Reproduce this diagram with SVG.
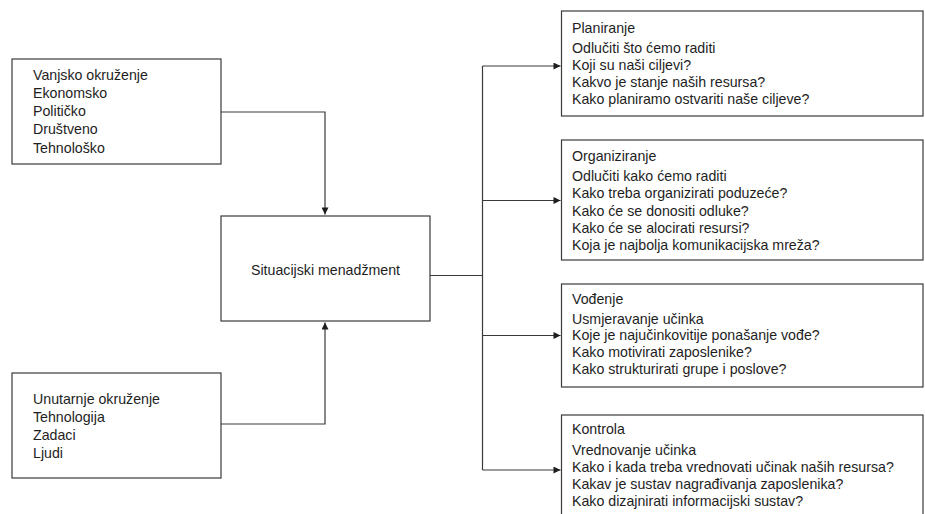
<svg xmlns="http://www.w3.org/2000/svg" width="925" height="514" viewBox="0 0 925 514">
<style>
.box{fill:#fff;stroke:#3a3a3a;stroke-width:1.2}
.t{font-family:"Liberation Sans",Arial,sans-serif;font-size:14.2px;fill:#1e1e1e}
.c{stroke:#3a3a3a;stroke-width:1.2;fill:none}
</style>
<defs>
<marker id="ah" viewBox="0 0 10 10" refX="10" refY="5" markerWidth="11" markerHeight="7" markerUnits="userSpaceOnUse" orient="auto">
<path d="M0,0 L10,5 L0,10 z" fill="#1e1e1e"/>
</marker>
</defs>
<rect width="925" height="514" fill="#fff"/>
<g id="connectors">
<path class="c" d="M221,112 H325 V214.5" marker-end="url(#ah)"/>
<path class="c" d="M221,424 H325 V322.5" marker-end="url(#ah)"/>
<path class="c" d="M430,275.5 H482.5"/>
<path class="c" d="M482.5,66 V470"/>
<path class="c" d="M482.5,66 H560.5" marker-end="url(#ah)"/>
<path class="c" d="M482.5,200.5 H560.5" marker-end="url(#ah)"/>
<path class="c" d="M482.5,335.5 H560.5" marker-end="url(#ah)"/>
<path class="c" d="M482.5,470 H560.5" marker-end="url(#ah)"/>
</g>
<g id="vanjsko">
<rect class="box" x="12" y="59" width="209" height="105"/>
<text class="t" x="33" y="79.5">Vanjsko okruženje</text>
<text class="t" x="33" y="97.8">Ekonomsko</text>
<text class="t" x="33" y="116.1">Političko</text>
<text class="t" x="33" y="134.4">Društveno</text>
<text class="t" x="33" y="152.7">Tehnološko</text>
</g>
<g id="unutarnje">
<rect class="box" x="12" y="373" width="209" height="105"/>
<text class="t" x="33" y="403.5">Unutarnje okruženje</text>
<text class="t" x="33" y="421.6">Tehnologija</text>
<text class="t" x="33" y="439.7">Zadaci</text>
<text class="t" x="33" y="457.8">Ljudi</text>
</g>
<g id="situacijski">
<rect class="box" x="221" y="216" width="209" height="105"/>
<text class="t" x="325.5" y="275" text-anchor="middle">Situacijski menadžment</text>
</g>
<g id="planiranje">
<rect class="box" x="561.5" y="11" width="361.5" height="105"/>
<text class="t" x="572" y="32.5">Planiranje</text>
<text class="t" x="572" y="52.5">Odlučiti što ćemo raditi</text>
<text class="t" x="572" y="69.8">Koji su naši ciljevi?</text>
<text class="t" x="572" y="87.1">Kakvo je stanje naših resursa?</text>
<text class="t" x="572" y="104.4">Kako planiramo ostvariti naše ciljeve?</text>
</g>
<g id="organiziranje">
<rect class="box" x="561.5" y="140" width="361.5" height="120"/>
<text class="t" x="572" y="161">Organiziranje</text>
<text class="t" x="572" y="181">Odlučiti kako ćemo raditi</text>
<text class="t" x="572" y="198.3">Kako treba organizirati poduzeće?</text>
<text class="t" x="572" y="215.6">Kako će se donositi odluke?</text>
<text class="t" x="572" y="232.9">Kako će se alocirati resursi?</text>
<text class="t" x="572" y="250.2">Koja je najbolja komunikacijska mreža?</text>
</g>
<g id="vodenje">
<rect class="box" x="561.5" y="284" width="361.5" height="103"/>
<text class="t" x="572" y="304">Vođenje</text>
<text class="t" x="572" y="323.5">Usmjeravanje učinka</text>
<text class="t" x="572" y="340.4">Koje je najučinkovitije ponašanje vođe?</text>
<text class="t" x="572" y="357.3">Kako motivirati zaposlenike?</text>
<text class="t" x="572" y="374.2">Kako strukturirati grupe i poslove?</text>
</g>
<g id="kontrola">
<rect class="box" x="561.5" y="415" width="361.5" height="110"/>
<text class="t" x="572" y="434">Kontrola</text>
<text class="t" x="572" y="454.5">Vrednovanje učinka</text>
<text class="t" x="572" y="471.8">Kako i kada treba vrednovati učinak naših resursa?</text>
<text class="t" x="572" y="489.1">Kakav je sustav nagrađivanja zaposlenika?</text>
<text class="t" x="572" y="506.4">Kako dizajnirati informacijski sustav?</text>
</g>
</svg>
